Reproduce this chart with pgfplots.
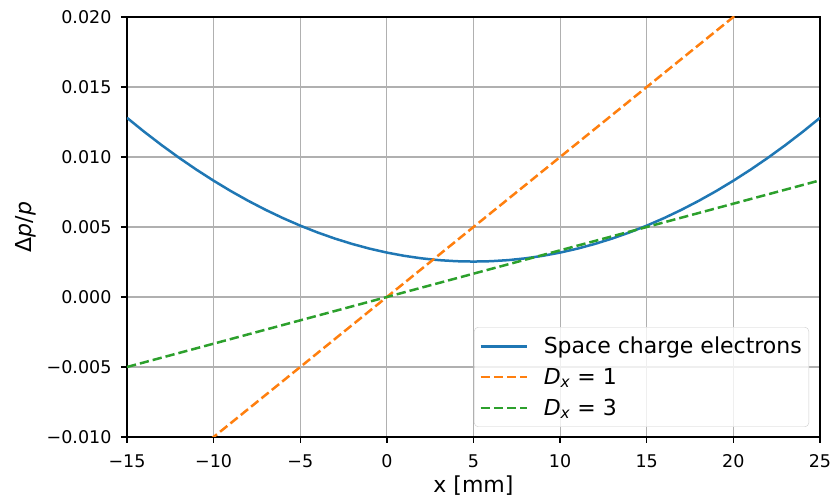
\documentclass[border=0pt]{standalone}
\usepackage{fontspec}
\setmainfont{DejaVu Sans}
\usepackage{pgfplots}
\pgfplotsset{compat=1.18}

\definecolor{mplblue}{HTML}{1F77B4}
\definecolor{mplorange}{HTML}{FF7F0E}
\definecolor{mplgreen}{HTML}{2CA02C}
\definecolor{gridgray}{HTML}{B0B0B0}

\newcommand{\tickfont}{\fontsize{17.5}{21}\selectfont}
\newcommand{\lblfont}{\fontsize{22}{26}\selectfont}

\begin{document}
\begin{tikzpicture}
\begin{axis}[
  scale only axis,
  width=693pt, height=420pt,
  xmin=-15, xmax=25, ymin=-0.010, ymax=0.020,
  scaled y ticks=false,
  xtick={-15,-10,...,25},
  xticklabels={−15,−10,−5,0,5,10,15,20,25},
  ytick={-0.010,-0.005,0,0.005,0.010,0.015,0.020},
  yticklabels={−0.010,−0.005,0.000,0.005,0.010,0.015,0.020},
  tick align=outside,
  tick pos=left,
  major tick length=6pt,
  every tick/.style={black, line width=1.3pt},
  axis line style={line width=1.3pt, black},
  grid=major,
  major grid style={gridgray, line width=1.2pt},
  tick label style={font=\tickfont},
  xticklabel style={yshift=-8pt},
  yticklabel style={xshift=-6pt},
  xlabel={x [mm]},
  ylabel={Δ\textit{p}/\textit{p}},
  label style={font=\lblfont},
  xlabel style={yshift=-1pt},
  ylabel style={yshift=4pt},
  legend cell align=left,
  legend style={
    at={(1,0)}, anchor=south east, xshift=-11pt, yshift=10pt,
    font=\lblfont, draw=black!20, rounded corners=4pt,
    fill=white, fill opacity=0.8, text opacity=1,
    inner xsep=5pt, inner ysep=8pt,
    row sep=9pt,
    /tikz/every odd column/.append style={column sep=14pt},
  },
  legend image code/.code={
    \draw[#1, line width=2.5pt] (0pt,0pt) -- (46pt,0pt);
  },
]
% beam energy deviation from the electron space charge
\addplot[mplblue, line width=2.5pt] coordinates {
  (-15,0.012798) (-14,0.011797) (-13,0.010847) (-12,0.009949) (-11,0.009102)
  (-10,0.008306) (-9,0.007561) (-8,0.006868) (-7,0.006226) (-6,0.005636)
  (-5,0.005097) (-4,0.004609) (-3,0.004173) (-2,0.003788) (-1,0.003454)
  (0,0.003172) (1,0.002941) (2,0.002761) (3,0.002633) (4,0.002556)
  (5,0.002530) (6,0.002556) (7,0.002633) (8,0.002761) (9,0.002941)
  (10,0.003172) (11,0.003454) (12,0.003788) (13,0.004173) (14,0.004609)
  (15,0.005097) (16,0.005636) (17,0.006226) (18,0.006868) (19,0.007561)
  (20,0.008306) (21,0.009102) (22,0.009949) (23,0.010847) (24,0.011797)
  (25,0.012798)
};
\addlegendentry{Space charge electrons}
% dispersion lines: dp/p = x / D_x
\addplot[mplorange, line width=2.5pt, dash pattern=on 9.3pt off 4pt] coordinates {
  (-15,-0.015) (25,0.025)
};
\addlegendentry{\textit{D}\textsubscript{\textit{x}} = 1}
\addplot[mplgreen, line width=2.5pt, dash pattern=on 9.3pt off 4pt] coordinates {
  (-15,-0.005) (25,0.008333)
};
\addlegendentry{\textit{D}\textsubscript{\textit{x}} = 3}
\end{axis}
\pgfresetboundingbox
\path[use as bounding box]
  ([shift={(-127pt,-65pt)}]current axis.south west)
  rectangle ([shift={(16pt,17pt)}]current axis.north east);
\end{tikzpicture}
\end{document}
